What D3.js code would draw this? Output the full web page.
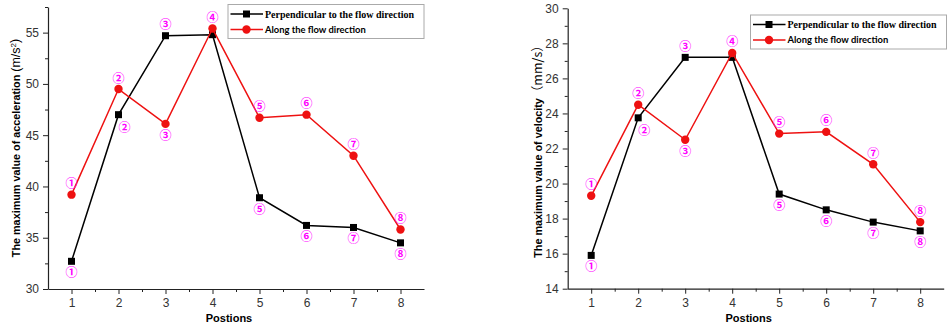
<!DOCTYPE html>
<html>
<head>
<meta charset="utf-8">
<script src="https://cdn.jsdelivr.net/npm/d3@7"></script>
<style>
  body { margin: 0; background: #fff; }
  svg { display: block; }
</style>
</head>
<body>
<div id="chart"></div>
<script>
// positions along the pipe
var positions = [1, 2, 3, 4, 5, 6, 7, 8];
var xMinor = [1.5, 2.5, 3.5, 4.5, 5.5, 6.5, 7.5];

// acceleration, m/s^2
var accelPerp = [32.7, 47.0, 54.7, 54.8, 38.9, 36.2, 36.0, 34.5];
var accelAlong = [39.2, 49.5, 46.1, 55.4, 46.7, 47.0, 43.0, 35.8];
var accelTicks = [30, 35, 40, 45, 50, 55];
var accelMinor = [32.5, 37.5, 42.5, 47.5, 52.5, 57.5];

// velocity, mm/s
var velPerp = [15.9, 23.75, 27.2, 27.2, 19.4, 18.5, 17.8, 17.3];
var velAlong = [19.3, 24.5, 22.5, 27.45, 22.85, 22.95, 21.1, 17.8];
var velTicks = [14, 16, 18, 20, 22, 24, 26, 28, 30];
var velMinor = [15, 17, 19, 21, 23, 25, 27, 29];

var circled = ["①", "②", "③", "④", "⑤", "⑥", "⑦", "⑧"];
// where the circled number sits for each point (null = not drawn)
var perpLabelSide = ["below", "belowRight", "above", null, "below", "below", "below", "below"];
var alongLabelSide = ["above", "above", "below", "above", "above", "above", "above", "above"];

var seriesNames = ["Perpendicular to the flow direction", "Along the flow direction"];
var seriesColors = ["#000000", "#ee1111"];

var width = 947, height = 325;

var svg = d3.select("#chart").append("svg")
    .attr("width", width)
    .attr("height", height);

var charts = [
    {
        left: 48, right: 424, top: 7, bottom: 289,
        yDomain: [30, 57.5], ticks: accelTicks, minor: accelMinor,
        perp: accelPerp, along: accelAlong,
        titleX: 14, legendX: 228, legendY: 4.5, legendW: 196,
        unit: "acceleration"
    },
    {
        left: 567.7, right: 943.7, top: 8.3, bottom: 288.7,
        yDomain: [14, 30], ticks: velTicks, minor: velMinor,
        perp: velPerp, along: velAlong,
        titleX: 536, legendX: 750.5, legendY: 15, legendW: 196,
        unit: "velocity"
    }
];

var labelOffset = {
    above: [0, -12],
    below: [0, 10.5],
    belowRight: [6, 11.5]
};

charts.forEach(function (c) {
    var x = d3.scaleLinear().domain([0.5, 8.5]).range([c.left, c.right]);
    var y = d3.scaleLinear().domain(c.yDomain).range([c.bottom, c.top]);

    var g = svg.append("g");

    // axes
    var xAxis = g.append("g")
        .attr("transform", "translate(0," + c.bottom + ")")
        .call(d3.axisBottom(x).tickValues(positions).tickSize(5).tickSizeOuter(0).tickFormat(d3.format("d")));
    g.append("g")
        .attr("transform", "translate(0," + c.bottom + ")")
        .call(d3.axisBottom(x).tickValues(xMinor).tickSize(3).tickSizeOuter(0).tickFormat(""))
        .select(".domain").remove();

    var yAxis = g.append("g")
        .attr("transform", "translate(" + c.left + ",0)")
        .call(d3.axisLeft(y).tickValues(c.ticks).tickSize(5).tickSizeOuter(0).tickFormat(d3.format("d")));
    g.append("g")
        .attr("transform", "translate(" + c.left + ",0)")
        .call(d3.axisLeft(y).tickValues(c.minor).tickSize(3).tickSizeOuter(0).tickFormat(""))
        .select(".domain").remove();

    g.selectAll(".domain").attr("stroke", "#222").attr("stroke-width", 1.2);
    g.selectAll(".tick line").attr("stroke", "#222");
    g.selectAll(".tick text")
        .attr("fill", "#333")
        .style("font-family", "'Liberation Sans', Arial, sans-serif")
        .style("font-size", "12px");
    xAxis.selectAll(".tick text").attr("y", 9.5);
    yAxis.selectAll(".tick text").attr("x", -9);

    // axis titles
    g.append("text")
        .attr("x", (c.left + c.right) / 2 - 7)
        .attr("y", 321.5)
        .attr("text-anchor", "middle")
        .style("font-family", "'Liberation Sans', Arial, sans-serif")
        .style("font-weight", "bold")
        .style("font-size", "11px")
        .text("Postions");

    var cy = (c.top + c.bottom) / 2;
    var yt = g.append("text")
        .attr("transform", "translate(" + c.titleX + "," + cy + ") rotate(-90)")
        .attr("text-anchor", "middle")
        .attr("dy", "0.35em")
        .style("font-family", "'Liberation Sans', Arial, sans-serif");
    yt.append("tspan")
        .style("font-weight", "bold")
        .style("font-size", "10.8px")
        .text("The maximum value of " + c.unit + (c.unit === "acceleration" ? " " : ""));
    if (c.unit === "acceleration") {
        yt.append("tspan").style("font-size", "12.5px").text("(m/s");
        yt.append("tspan").style("font-size", "8px").attr("dy", "-0.5em").text("2");
        yt.append("tspan").style("font-size", "12.5px").attr("dy", "0.3em").text(")");
    } else {
        yt.append("tspan").style("font-size", "12.5px")
            .style("font-family", "'Noto Sans CJK SC', sans-serif")
            .text("（mm/s）");
    }

    var line = d3.line()
        .x(function (d, i) { return x(positions[i]); })
        .y(function (d) { return y(d); });

    // perpendicular series
    g.append("path")
        .attr("d", line(c.perp))
        .attr("fill", "none")
        .attr("stroke", seriesColors[0])
        .attr("stroke-width", 1.5);
    g.selectAll(".sq")
        .data(c.perp)
        .enter().append("rect")
        .attr("x", function (d, i) { return x(positions[i]) - 3.5; })
        .attr("y", function (d) { return y(d) - 3.5; })
        .attr("width", 7)
        .attr("height", 7)
        .attr("fill", seriesColors[0]);

    // along series
    g.append("path")
        .attr("d", line(c.along))
        .attr("fill", "none")
        .attr("stroke", seriesColors[1])
        .attr("stroke-width", 1.5);
    g.selectAll(".dot")
        .data(c.along)
        .enter().append("circle")
        .attr("cx", function (d, i) { return x(positions[i]); })
        .attr("cy", function (d) { return y(d); })
        .attr("r", 4.2)
        .attr("fill", seriesColors[1]);

    // circled point numbers
    function addLabels(vals, sides) {
        vals.forEach(function (v, i) {
            var side = sides[i];
            if (!side) return;
            var off = labelOffset[side];
            g.append("text")
                .attr("x", x(positions[i]) + off[0])
                .attr("y", y(v) + off[1])
                .attr("text-anchor", "middle")
                .attr("dominant-baseline", "central")
                .attr("fill", "#ff00ff")
                .style("font-family", "'Noto Sans CJK SC', sans-serif")
                .style("font-weight", "bold")
                .style("font-size", "12px")
                .text(circled[i]);
        });
    }
    addLabels(c.perp, perpLabelSide);
    addLabels(c.along, alongLabelSide);

    // legend
    var lg = g.append("g").attr("transform", "translate(" + c.legendX + "," + c.legendY + ")");
    lg.append("rect")
        .attr("width", c.legendW)
        .attr("height", 34)
        .attr("fill", "#fff")
        .attr("stroke", "#aaa")
        .attr("stroke-width", 1);
    seriesNames.forEach(function (name, k) {
        var ry = 9.5 + k * 15.5;
        lg.append("line")
            .attr("x1", 2.5).attr("x2", 35)
            .attr("y1", ry).attr("y2", ry)
            .attr("stroke", seriesColors[k])
            .attr("stroke-width", 1.5);
        if (k === 0) {
            lg.append("rect")
                .attr("x", 18.5 - 3.5).attr("y", ry - 3.5)
                .attr("width", 7).attr("height", 7)
                .attr("fill", seriesColors[k]);
        } else {
            lg.append("circle")
                .attr("cx", 18.5).attr("cy", ry)
                .attr("r", 4.2)
                .attr("fill", seriesColors[k]);
        }
        lg.append("text")
            .attr("x", 37)
            .attr("y", ry)
            .attr("dy", "0.35em")
            .style("font-family", k === 0 ? "'Liberation Serif', serif" : "Lato, sans-serif")
            .style("font-weight", "bold")
            .style("font-size", k === 0 ? "10px" : "9.4px")
            .text(name);
    });
});
</script>
</body>
</html>
